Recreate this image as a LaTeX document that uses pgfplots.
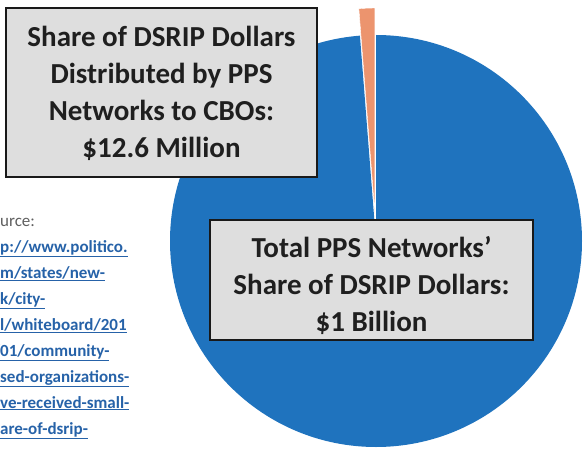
\documentclass[border=0pt]{standalone}
\usepackage{pgfplots}
\usepackage{pgfplotstable}
\pgfplotsset{compat=1.18}
\usetikzlibrary{calc}
\usepackage{fontspec}
\setmainfont{Carlito}
\definecolor{pieblue}{RGB}{31,115,190}
\definecolor{pieorange}{RGB}{236,148,110}
\definecolor{boxgray}{RGB}{222,222,222}
\definecolor{linkblue}{RGB}{38,98,168}
\definecolor{srcgray}{RGB}{95,95,95}
\pgfplotstableread{
label value
PPS 1000
CBO 12.6
}\piedata
\begin{document}
\begin{tikzpicture}
\pgfplotstablegetelem{0}{value}\of\piedata \let\vA\pgfplotsretval
\pgfplotstablegetelem{1}{value}\of\piedata \let\vB\pgfplotsretval
\pgfmathsetmacro{\angA}{\vA/(\vA+\vB)*360}
\pgfmathsetmacro{\angB}{\vB/(\vA+\vB)*360}
\pgfmathsetmacro{\endA}{90-\angA}
\pgfmathsetmacro{\endB}{90+\angB}
\pgfmathsetmacro{\midB}{90+\angB/2}
\begin{axis}[scale only axis, width=584pt, height=451pt,
  xmin=0, xmax=584, ymin=0, ymax=451, hide axis, clip=true]
% pie
\fill[pieblue] (axis cs:376,210) -- ++(90:206pt)
  arc[start angle=90, end angle=\endA, radius=206pt] -- cycle;
\fill[pieorange, draw=white, line width=0.4pt]
  ($(axis cs:376,210)+(\midB:27pt)$) -- ++(90:206pt)
  arc[start angle=90, end angle=\endB, radius=206pt] -- cycle;
% box 1
\draw[fill=boxgray, line width=2.5pt, draw=black!90] (axis cs:6,443) rectangle (axis cs:317,274);
\node[align=center, font=\fontsize{29}{37}\selectfont\bfseries, text=black!88, inner sep=0pt]
  at (axis cs:161.5,358) {Share of DSRIP Dollars\\Distributed by PPS\\Networks to CBOs:\\\$12.6 Million};
% box 2
\draw[fill=boxgray, line width=2.5pt, draw=black!90] (axis cs:210,231) rectangle (axis cs:533,111);
\node[align=center, font=\fontsize{29}{37}\selectfont\bfseries, text=black!88, inner sep=0pt]
  at (axis cs:371.5,166) {Total PPS Networks\symbol{39}\\Share of DSRIP Dollars:\\\$1 Billion};
% source
\node[anchor=base west, inner sep=0pt, font=\fontsize{17}{20}\selectfont, text=srcgray] at (axis cs:0,225) {\llap{So}urce:};
\node[anchor=base west, inner sep=0pt, font=\fontsize{17}{20}\selectfont\bfseries, text=linkblue] at (axis cs:0,199) {\llap{\underline{htt}}\underline{p://www.politico.}};
\node[anchor=base west, inner sep=0pt, font=\fontsize{17}{20}\selectfont\bfseries, text=linkblue] at (axis cs:0,173) {\llap{\underline{co}}\underline{m/states/new-}};
\node[anchor=base west, inner sep=0pt, font=\fontsize{17}{20}\selectfont\bfseries, text=linkblue] at (axis cs:0,147) {\llap{\underline{yor}}\underline{k/city-}};
\node[anchor=base west, inner sep=0pt, font=\fontsize{17}{20}\selectfont\bfseries, text=linkblue] at (axis cs:0,121) {\llap{\underline{hal}}\underline{l/whiteboard/201}};
\node[anchor=base west, inner sep=0pt, font=\fontsize{17}{20}\selectfont\bfseries, text=linkblue] at (axis cs:0,95) {\llap{\underline{7/}}\underline{01/community-}};
\node[anchor=base west, inner sep=0pt, font=\fontsize{17}{20}\selectfont\bfseries, text=linkblue] at (axis cs:0,69) {\llap{\underline{ba}}\underline{sed-organizations-}};
\node[anchor=base west, inner sep=0pt, font=\fontsize{17}{20}\selectfont\bfseries, text=linkblue] at (axis cs:0,43) {\llap{\underline{ha}}\underline{ve-received-small-}};
\node[anchor=base west, inner sep=0pt, font=\fontsize{17}{20}\selectfont\bfseries, text=linkblue] at (axis cs:0,17) {\llap{\underline{sh}}\underline{are-of-dsrip-}};
\end{axis}
\pgfresetboundingbox
\path (current axis.south west) rectangle (current axis.north east);
\end{tikzpicture}
\end{document}
